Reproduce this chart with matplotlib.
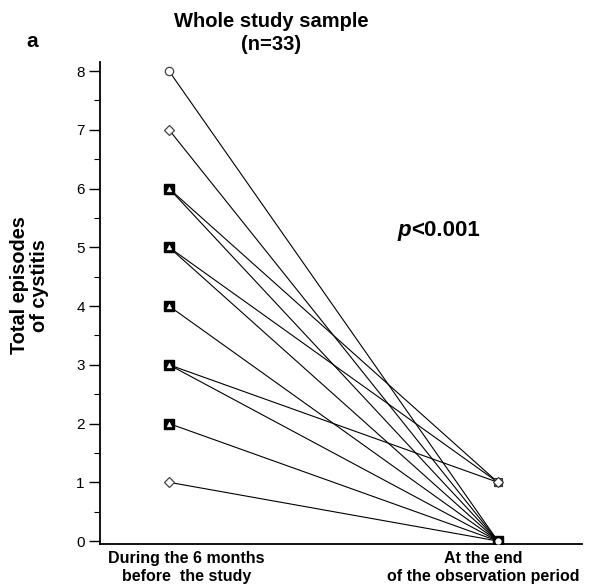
import matplotlib.pyplot as plt
from matplotlib.ticker import MultipleLocator

plt.rcParams['font.family'] = ['Liberation Sans', 'DejaVu Sans']

# episodes before the study -> episodes at the end of observation (one entry per distinct line)
before = [8, 7, 6, 6, 5, 5, 4, 3, 3, 2, 1]
after = [0, 0, 1, 0, 1, 0, 0, 1, 0, 0, 0]

period_labels = ['During the 6 months\nbefore  the study', 'At the end\nof the observation period']
yticks = [0, 1, 2, 3, 4, 5, 6, 7, 8]

# marker look per left value (open marker for single patients, stacked otherwise)
left_open = {8: 'o', 7: 'D', 1: 'D'}

fig = plt.figure(figsize=(5.93, 5.87), dpi=100)
ax = fig.add_axes([0.1686, 0.0733, 0.8124, 0.8207])

for b, a in zip(before, after):
    ax.plot([0, 1], [b, a], color='black', lw=0.8, zorder=2)

for v in sorted(set(before)):
    if v in left_open:
        ax.plot(0, v, marker=left_open[v], ms=6 if left_open[v] == 'o' else 5.5,
                mfc='white', mec='#444444', mew=0.9, zorder=3)
    else:
        ax.plot(0, v, marker='s', ms=6.5, mfc='black', mec='black', zorder=3)
        ax.plot(0, v, marker='^', ms=3.5, mfc='white', mec='white', mew=0.3, zorder=4)

# right side: stacked open markers at 1, dense stack at 0
for m in ['s', '^', 'o', 'D']:
    ax.plot(1, 1, marker=m, ms=5.5, mfc='white', mec='#333333', mew=0.8, zorder=3)
ax.plot(1, 0, marker='s', ms=6.5, mfc='black', mec='black', zorder=3)
ax.plot(1, 0, marker='o', ms=3.5, mfc='white', mec='white', zorder=4)

ax.set_xlim(-0.21, 1.255)
ax.set_ylim(-0.05, 8.15)
ax.set_yticks(yticks)
ax.yaxis.set_minor_locator(MultipleLocator(0.5))
ax.tick_params(axis='y', which='major', length=8, width=1, labelsize=11, pad=3)
ax.tick_params(axis='y', which='minor', length=4, width=0.8)
ax.set_xticks([])
for s in ['top', 'right']:
    ax.spines[s].set_visible(False)
ax.spines['left'].set_linewidth(1.3)
ax.spines['bottom'].set_linewidth(1.3)

ax.text(0.18, -0.014, period_labels[0], transform=ax.transAxes, ha='center', va='top',
        fontsize=11.5, fontweight='bold', linespacing=1.25)
ax.text(0.795, -0.014, period_labels[1], transform=ax.transAxes, ha='center', va='top',
        fontsize=11.5, fontweight='bold', linespacing=1.25)

fig.text(0.05, 0.514, 'Total episodes\nof cystitis', rotation=90, ha='center', va='center',
         fontsize=14.3, fontweight='bold', linespacing=1.05)

fig.text(0.457, 0.944, 'Whole study sample\n(n=33)', ha='center', va='center',
         fontsize=14.5, fontweight='bold', linespacing=1.3)
fig.text(0.055, 0.93, 'a', ha='center', va='center', fontsize=15, fontweight='bold')

t1 = ax.text(0.696, 5.2, 'p', fontsize=16, fontweight='bold', fontstyle='italic', va='baseline')
ax.annotate('<0.001', xy=(1, 0), xycoords=t1, va='bottom', fontsize=16, fontweight='bold')

fig.savefig('out.png', dpi=100)
